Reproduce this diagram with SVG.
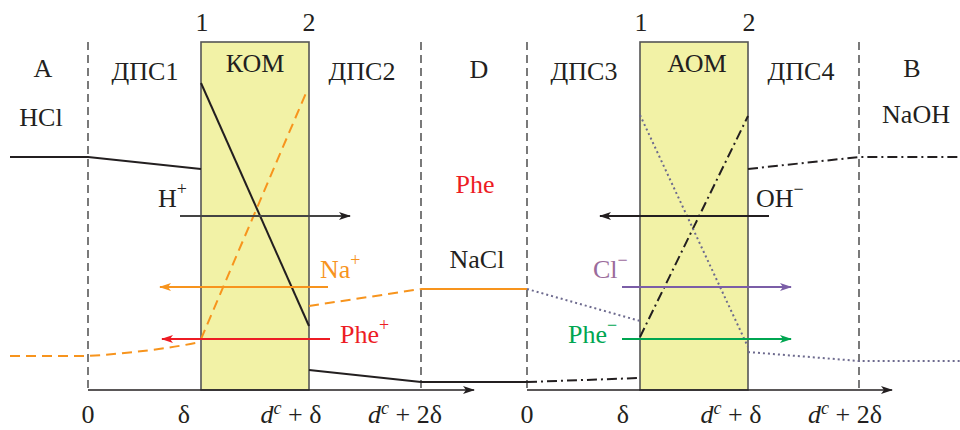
<svg xmlns="http://www.w3.org/2000/svg" width="960" height="430" viewBox="0 0 960 430">
<style>
text{font-family:"Liberation Serif","Times New Roman",serif;font-size:26px;fill:#231f20}
.sup{font-size:18px}
.mem{fill:#f2f2a6;stroke:#555;stroke-width:1.6}
.vd{stroke:#333;stroke-width:1.3;stroke-dasharray:8 5;fill:none}
.ax{stroke:#231f20;stroke-width:1.6;fill:none}
.blk{stroke:#231f20;stroke-width:2;fill:none}
.dd{stroke:#231f20;stroke-width:2;fill:none;stroke-dasharray:10 4 2 4}
.or{stroke:#f7941d;stroke-width:2;fill:none;stroke-dasharray:10 6}
.ors{stroke:#f7941d;stroke-width:2;fill:none}
.pd{stroke:#6d6a8e;stroke-width:2;fill:none;stroke-dasharray:2 3}
</style>
<defs>
<marker id="ahk" viewBox="0 0 12 8" refX="11" refY="4" markerWidth="12" markerHeight="8" markerUnits="userSpaceOnUse" orient="auto"><path d="M0,0 L12,4 L0,8 L3,4 z" fill="#231f20"/></marker>
<marker id="aho" viewBox="0 0 12 8" refX="11" refY="4" markerWidth="12" markerHeight="8" markerUnits="userSpaceOnUse" orient="auto"><path d="M0,0 L12,4 L0,8 L3,4 z" fill="#f7941d"/></marker>
<marker id="ahr" viewBox="0 0 12 8" refX="11" refY="4" markerWidth="12" markerHeight="8" markerUnits="userSpaceOnUse" orient="auto"><path d="M0,0 L12,4 L0,8 L3,4 z" fill="#ed1c24"/></marker>
<marker id="ahp" viewBox="0 0 12 8" refX="11" refY="4" markerWidth="12" markerHeight="8" markerUnits="userSpaceOnUse" orient="auto"><path d="M0,0 L12,4 L0,8 L3,4 z" fill="#7b5ea7"/></marker>
<marker id="ahg" viewBox="0 0 12 8" refX="11" refY="4" markerWidth="12" markerHeight="8" markerUnits="userSpaceOnUse" orient="auto"><path d="M0,0 L12,4 L0,8 L3,4 z" fill="#00a651"/></marker>
</defs>
<rect width="960" height="430" fill="#fff"/>

<g id="kom">
<rect class="mem" x="201" y="42" width="108" height="348"/>
<text x="255" y="72" text-anchor="middle">КОМ</text>
<text x="202" y="31" text-anchor="middle">1</text>
<text x="309" y="31" text-anchor="middle">2</text>
</g>
<g id="aom">
<rect class="mem" x="640" y="42" width="108" height="348"/>
<text x="697" y="72" text-anchor="middle">АОМ</text>
<text x="641" y="31" text-anchor="middle">1</text>
<text x="749" y="31" text-anchor="middle">2</text>
</g>

<g id="boundaries">
<line class="vd" x1="88" y1="42" x2="88" y2="390"/>
<line class="vd" x1="421" y1="42" x2="421" y2="390"/>
<line class="vd" x1="527" y1="42" x2="527" y2="390"/>
<line class="vd" x1="859" y1="42" x2="859" y2="390"/>
</g>

<g id="zones">
<text x="43" y="77" text-anchor="middle">A</text>
<text x="41" y="126" text-anchor="middle">HCl</text>
<text x="145" y="80" text-anchor="middle">ДПС1</text>
<text x="362" y="80" text-anchor="middle">ДПС2</text>
<text x="479" y="78" text-anchor="middle">D</text>
<text x="475" y="193" text-anchor="middle" style="fill:#ed1c24">Phe</text>
<text x="477" y="268" text-anchor="middle">NaCl</text>
<text x="584" y="80" text-anchor="middle">ДПС3</text>
<text x="801" y="80" text-anchor="middle">ДПС4</text>
<text x="912" y="77" text-anchor="middle">B</text>
<text x="916" y="123" text-anchor="middle">NaOH</text>
</g>

<g id="axes">
<line class="ax" x1="88" y1="390" x2="474" y2="390" marker-end="url(#ahk)"/>
<line class="ax" x1="527" y1="390" x2="892" y2="390" marker-end="url(#ahk)"/>
<text x="88" y="423" text-anchor="middle">0</text>
<text x="184" y="423" text-anchor="middle">δ</text>
<text x="291" y="423" text-anchor="middle"><tspan font-style="italic">d</tspan><tspan font-style="italic" class="sup" dy="-9">c</tspan><tspan dy="9"> + δ</tspan></text>
<text x="405" y="423" text-anchor="middle"><tspan font-style="italic">d</tspan><tspan font-style="italic" class="sup" dy="-9">c</tspan><tspan dy="9"> + 2δ</tspan></text>
<text x="527" y="423" text-anchor="middle">0</text>
<text x="623" y="423" text-anchor="middle">δ</text>
<text x="731" y="423" text-anchor="middle"><tspan font-style="italic">d</tspan><tspan font-style="italic" class="sup" dy="-9">c</tspan><tspan dy="9"> + δ</tspan></text>
<text x="845" y="423" text-anchor="middle"><tspan font-style="italic">d</tspan><tspan font-style="italic" class="sup" dy="-9">c</tspan><tspan dy="9"> + 2δ</tspan></text>
</g>

<g id="profiles">
<polyline class="blk" points="10,157 88,157 201,169"/>
<line class="blk" x1="201" y1="83" x2="309" y2="326"/>
<polyline class="blk" points="309,370 421,382 527,382"/>
<line class="dd" x1="527" y1="382" x2="640" y2="378"/>
<line class="dd" x1="640" y1="337" x2="748" y2="116"/>
<polyline class="dd" points="748,169 859,157 960,157"/>
<path class="or" d="M10,356 L88,356 Q150,352 201,342"/>
<line class="or" x1="201" y1="339" x2="306" y2="93"/>
<line class="or" x1="309" y1="306" x2="421" y2="289"/>
<line class="ors" x1="421" y1="289" x2="527" y2="289"/>
<line class="pd" x1="527" y1="289" x2="640" y2="321"/>
<line class="pd" x1="640" y1="115" x2="748" y2="347"/>
<polyline class="pd" points="748,352 859,361 960,361"/>
</g>

<g id="fluxes">
<line x1="180" y1="216" x2="350" y2="216" stroke="#444" stroke-width="1.8" marker-end="url(#ahk)"/>
<line x1="328" y1="287" x2="160" y2="287" stroke="#f7941d" stroke-width="1.8" marker-end="url(#aho)"/>
<line x1="330" y1="339" x2="162" y2="339" stroke="#ed1c24" stroke-width="1.8" marker-end="url(#ahr)"/>
<line x1="769" y1="216" x2="600" y2="216" stroke="#231f20" stroke-width="1.8" marker-end="url(#ahk)"/>
<line x1="622" y1="287" x2="791" y2="287" stroke="#7b5ea7" stroke-width="1.8" marker-end="url(#ahp)"/>
<line x1="622" y1="339" x2="791" y2="339" stroke="#00a651" stroke-width="1.8" marker-end="url(#ahg)"/>
</g>

<g id="ions">
<text x="158" y="207">H<tspan class="sup" dy="-12">+</tspan></text>
<text x="320" y="278" style="fill:#f7941d">Na<tspan class="sup" dy="-12" style="fill:#f7941d">+</tspan></text>
<text x="340" y="343" style="fill:#ed1c24">Phe<tspan class="sup" dy="-12" style="fill:#ed1c24">+</tspan></text>
<text x="756" y="207">OH<tspan class="sup" dy="-12">−</tspan></text>
<text x="593" y="278" style="fill:#9b6b9b">Cl<tspan class="sup" dy="-12" style="fill:#9b6b9b">−</tspan></text>
<text x="568" y="343" style="fill:#00a651">Phe<tspan class="sup" dy="-12" style="fill:#00a651">−</tspan></text>
</g>
</svg>
